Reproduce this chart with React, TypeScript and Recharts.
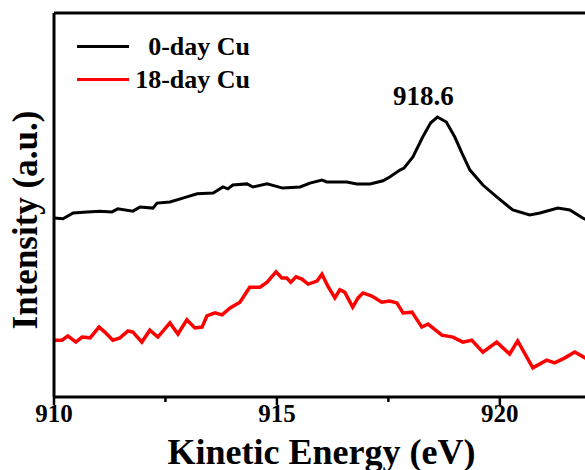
import { LineChart, Line, XAxis, YAxis, ReferenceLine, ReferenceDot, Legend } from "recharts";

// Cu XAES spectra, stacked offsets (arbitrary units)
const FONT = '"Liberation Serif", "Times New Roman", serif';

const day0Energy = [
  910.0, 910.2, 910.43, 910.74, 911.03, 911.3, 911.43, 911.77, 911.93, 912.22, 912.31, 912.6,
  912.89, 913.21, 913.57, 913.79, 913.9, 914.01, 914.33, 914.46, 914.78, 915.13, 915.52, 915.74,
  916.01, 916.12, 916.57, 916.79, 917.09, 917.38, 917.53, 917.76, 917.85, 918.05, 918.27, 918.45,
  918.6, 918.8, 918.99, 919.15, 919.33, 919.62, 919.93, 920.29, 920.67, 920.9, 921.3, 921.57,
  921.86, 922.0,
];
const day0Intensity = [
  46.6, 46.4, 47.9, 48.2, 48.4, 48.2, 49.0, 48.4, 49.5, 49.2, 50.5, 50.8,
  51.8, 52.9, 53.1, 54.7, 54.2, 55.2, 55.5, 54.7, 55.5, 54.4, 54.7, 55.7,
  56.5, 56.0, 56.0, 55.5, 55.5, 56.3, 57.3, 59.1, 59.6, 62.5, 67.7, 71.4,
  72.9, 71.6, 67.7, 63.5, 59.1, 55.2, 52.1, 48.7, 47.4, 47.9, 49.2, 48.7,
  46.6, 45.8,
];

const day18Energy = [
  910.0, 910.18, 910.31, 910.49, 910.63, 910.81, 911.01, 911.14, 911.32, 911.48, 911.66, 911.77,
  911.97, 912.15, 912.33, 912.6, 912.78, 912.98, 913.16, 913.32, 913.43, 913.61, 913.77, 913.95,
  914.17, 914.39, 914.62, 914.78, 914.98, 915.11, 915.22, 915.31, 915.43, 915.56, 915.7, 915.9,
  916.01, 916.14, 916.3, 916.41, 916.52, 916.7, 916.82, 916.93, 917.13, 917.35, 917.53, 917.69,
  917.83, 918.03, 918.25, 918.39, 918.7, 918.95, 919.17, 919.37, 919.62, 919.93, 920.22, 920.4,
  920.74, 921.05, 921.23, 921.46, 921.68, 921.91, 922.0,
];
const day18Intensity = [
  14.8, 14.8, 15.9, 14.3, 15.6, 15.4, 18.2, 16.9, 14.8, 15.4, 17.2, 16.9,
  14.3, 17.4, 15.6, 19.3, 16.4, 20.1, 18.0, 18.2, 21.1, 21.9, 21.4, 23.2,
  24.7, 28.6, 28.6, 29.9, 32.6, 31.0, 31.0, 29.9, 31.3, 30.7, 29.4, 30.2,
  32.0, 28.9, 25.8, 27.9, 27.3, 23.4, 25.8, 27.1, 26.3, 24.7, 25.0, 24.5,
  21.9, 22.1, 18.2, 19.0, 16.1, 15.6, 14.3, 14.8, 11.7, 14.3, 11.2, 14.6,
  7.6, 9.6, 8.9, 10.2, 11.7, 10.2, 9.8,
];

const xTicks = [910, 912.5, 915, 917.5, 920];
const majorTicks = [910, 915, 920];
const peakEnergy = 918.6;
const peakIntensity = 72.9;

const day0 = day0Energy.map((e, i) => ({ e, v: day0Intensity[i] }));
const day18 = day18Energy.map((e, i) => ({ e, v: day18Intensity[i] }));

// eslint-disable-next-line @typescript-eslint/no-explicit-any
const EnergyTick = (props: any) => {
  const { x, y, payload } = props;
  const major = majorTicks.includes(payload.value);
  return (
    <g>
      <line x1={x} x2={x} y1={y} y2={y + (major ? 8 : 5)} stroke="#000" strokeWidth={2.5} />
      {major && (
        <text x={x} y={y + 25} textAnchor="middle" fontFamily={FONT} fontWeight="bold" fontSize={25} fill="#000">
          {payload.value}
        </text>
      )}
    </g>
  );
};

// eslint-disable-next-line @typescript-eslint/no-explicit-any
const renderLegend = (props: any) => (
  <div style={{ fontFamily: FONT, fontWeight: "bold", fontSize: 26, color: "#000" }}>
    {/* eslint-disable-next-line @typescript-eslint/no-explicit-any */}
    {props.payload.map((p: any) => (
      <div key={p.value} style={{ display: "flex", alignItems: "center", height: 33 }}>
        <span style={{ display: "inline-block", width: 52, height: 3.5, background: p.color }} />
        <span style={{ display: "inline-block", width: 121, textAlign: "right", lineHeight: "33px" }}>{p.value}</span>
      </div>
    ))}
  </div>
);

export default function App() {
  return (
    <div style={{ position: "absolute", left: 0, top: 0, width: 585, height: 470, overflow: "hidden", background: "#fff" }}>
      <LineChart width={600} height={470} margin={{ top: 13, right: 11, bottom: 0, left: 0 }}>
        <XAxis
          type="number"
          dataKey="e"
          domain={[910, 922]}
          allowDataOverflow
          ticks={xTicks}
          interval={0}
          tickSize={0}
          tickMargin={0}
          tickLine={false}
          tick={EnergyTick}
          height={73}
          axisLine={{ stroke: "#000", strokeWidth: 3 }}
          label={{
            // eslint-disable-next-line @typescript-eslint/no-explicit-any
            content: (p: any) => (
              <text
                x={p.viewBox.x + p.viewBox.width / 2}
                y={464}
                textAnchor="middle"
                fontFamily={FONT}
                fontWeight="bold"
                fontSize={36}
                fill="#000"
              >
                Kinetic Energy (eV)
              </text>
            ),
          }}
        />
        <YAxis
          type="number"
          dataKey="v"
          domain={[0, 100]}
          width={54}
          tick={false}
          tickLine={false}
          axisLine={{ stroke: "#000", strokeWidth: 3 }}
          label={{
            content: () => (
              <text
                x={37}
                y={220}
                transform="rotate(-90, 37, 220)"
                textAnchor="middle"
                fontFamily={FONT}
                fontWeight="bold"
                fontSize={35}
                fill="#000"
              >
                Intensity (a.u.)
              </text>
            ),
          }}
        />
        <ReferenceLine y={100} stroke="#000" strokeWidth={3} />
        <Line data={day0} dataKey="v" name="0-day Cu" type="linear" stroke="#000000" strokeWidth={3} dot={false} isAnimationActive={false} />
        <Line data={day18} dataKey="v" name="18-day Cu" type="linear" stroke="#ff0000" strokeWidth={3.5} dot={false} isAnimationActive={false} />
        <ReferenceDot
          x={peakEnergy}
          y={peakIntensity}
          r={1}
          fill="none"
          stroke="none"
          label={{
            // eslint-disable-next-line @typescript-eslint/no-explicit-any
            content: (p: any) => (
              <text
                x={p.viewBox.x + p.viewBox.width / 2 - 14}
                y={p.viewBox.y + p.viewBox.height / 2 - 12}
                textAnchor="middle"
                fontFamily={FONT}
                fontWeight="bold"
                fontSize={27}
                fill="#000"
              >
                {peakEnergy.toFixed(1)}
              </text>
            ),
          }}
        />
        {/* middle/center keeps the legend out of the offset calculation */}
        <Legend
          layout="horizontal"
          verticalAlign="middle"
          align="center"
          content={renderLegend}
          wrapperStyle={{ top: 30, left: 77, width: "auto" }}
        />
      </LineChart>
    </div>
  );
}
